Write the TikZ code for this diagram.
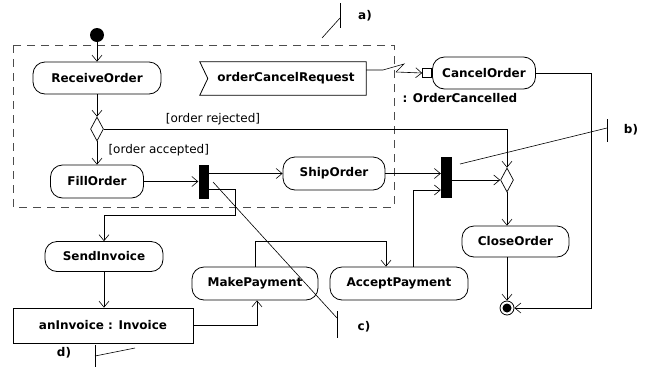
\documentclass[tikz,border=0pt]{standalone}
\usepackage{fontspec}
\setmainfont{DejaVu Sans}
\usetikzlibrary{arrows.meta,shapes.geometric,calc}
\begin{document}
\begin{tikzpicture}[x=1pt,y=-1pt,
  txt/.style={font=\fontsize{12}{14}\selectfont},
  act/.style={draw, rounded corners=12pt, line width=0.8pt, inner sep=0pt,
              font=\fontsize{12}{14}\selectfont\bfseries},
  obj/.style={draw, line width=0.8pt, inner sep=0pt, font=\fontsize{12}{14}\selectfont\bfseries},
  barnode/.style={fill=black, draw=none, inner sep=0pt, minimum width=10pt, minimum height=34pt},
  dec/.style={diamond, draw, inner sep=0pt, line width=0.7pt, minimum width=13pt, minimum height=24pt},
  flow/.style={line width=0.6pt, -{Straight Barb[length=6pt,width=10pt]}},
  plainline/.style={line width=0.6pt},
  frame/.style={draw=black!70, line width=0.7pt, dash pattern=on 8pt off 6pt},
  tag/.style={font=\fontsize{12}{14}\selectfont\bfseries}
]
\useasboundingbox (0,0) rectangle (647,370);

% partition frame
\draw[frame] (13,45) rectangle (394,207);

% nodes
\node[circle, fill=black, minimum size=14pt, inner sep=0pt] (start) at (97,35) {};
\node[act, minimum width=128pt, minimum height=32pt] (recv) at (97,78) {ReceiveOrder};
\node[inner sep=0pt, minimum width=160pt, minimum height=33pt, txt, font=\fontsize{12}{14}\selectfont\bfseries] (ocr) at (286,78.5) {orderCancelRequest};
\draw[line width=0.8pt] (ocr.north east) -- ($(ocr.north west)+(-6,0)$) -- ($(ocr.west)+(2,0)$)
   -- ($(ocr.south west)+(-6,0)$) -- (ocr.south east) -- cycle;
\node[draw, line width=0.7pt, minimum size=9pt, inner sep=0pt] (pin) at (427,73) {};
\node[act, minimum width=103pt, minimum height=32pt] (cancel) at (484,73) {CancelOrder};
\node[txt, font=\fontsize{12}{14}\selectfont\bfseries, anchor=west] (oc) at (399,98) {: OrderCancelled};

\node[dec] (d1) at (97,129) {};
\node[txt, anchor=south] (gr) at (213,129) {[order rejected]};
\node[act, minimum width=93pt, minimum height=33pt] (fill) at (97,181.5) {FillOrder};
\node[txt, anchor=west] (ga) at (105,150) {[order accepted]};
\node[barnode] (bar1) at (203.5,181.5) {};
\node[act, minimum width=102pt, minimum height=33pt] (ship) at (334,173.5) {ShipOrder};
\node[barnode, minimum width=11pt, minimum height=41pt] (bar2) at (446.5,177.5) {};
\node[dec] (d2) at (507,180) {};
\node[act, minimum width=107pt, minimum height=31pt] (close) at (515.5,241.5) {CloseOrder};
\node[circle, draw, line width=0.8pt, minimum size=14pt, inner sep=0pt] (final) at (507,308) {};
\fill (final.center) circle (4.5pt);

\node[act, minimum width=118pt, minimum height=30pt] (send) at (104,256.5) {SendInvoice};
\node[obj, minimum width=180pt, minimum height=35pt] (inv) at (103,325.5) {anInvoice : Invoice};
\node[act, minimum width=126pt, minimum height=33pt] (make) at (255,283.5) {MakePayment};
\node[act, minimum width=138pt, minimum height=33pt] (acc) at (399,283.5) {AcceptPayment};

% connectors
\draw[flow] (start) -- (recv);
\draw[flow] (recv) -- (d1);
\draw[flow] (d1) -- (fill);
\draw[flow] (d1.east) -| (d2.north);
\draw[flow] (fill.east) -- (bar1.west);
\draw[flow] (bar1.east |- ship.west) -- (ship.west);
\draw[flow] ($(bar1.east)+(0,8)$) -- ++(27,0) -- ++(0,25.5) -| (send.north);
\draw[flow] (send.south) -- (send.south |- inv.north);
\draw[flow] (inv.east) -| ($(make.south)+(2,0)$);
\draw[flow] (make.north) -- ++(0,-25) -| ($(acc.north)+(-13,0)$);
\draw[flow] ($(acc.north)+(14,0)$) |- ($(bar2.west)+(0,12.5)$);
\draw[flow] (ship.east) -- (ship.east -| bar2.west);
\draw[flow] (bar2.east |- d2.west) -- (d2.west);
\draw[flow] (d2.south) -- (d2.south |- close.north);
\draw[flow] (d2.south |- close.south) -- (final.north);
\draw[flow] (cancel.east) -- ++(55,0) |- (final.east);

% interrupting edge
\coordinate (z1) at (383,70);
\coordinate (z2) at (404,64);
\coordinate (z3) at (396,72);
\draw[plainline] ($(ocr.east)+(0,-8.5)$) -- (z1) -- (z2) -- (z3);
\draw[flow] (z3) -- (pin.west);

% callouts
\coordinate (ta1) at (340,3); \coordinate (ta2) at (340,28);
\coordinate (tam) at (340,18); \coordinate (tae) at (322,38);
\draw[plainline] (ta1) -- (ta2);
\draw[plainline] (tam) -- (tae);
\node[tag] (la) at (365,16) {a)};

\coordinate (tb1) at (607,119); \coordinate (tb2) at (607,142);
\coordinate (tbm) at (607,128); \coordinate (tbe) at (460,164);
\draw[plainline] (tb1) -- (tb2);
\draw[plainline] (tbm) -- (tbe);
\node[tag] (lb) at (631,130) {b)};

\coordinate (tc1) at (337,311); \coordinate (tc2) at (337,338);
\coordinate (tcm) at (337,318); \coordinate (tce) at (213,182);
\draw[plainline] (tc1) -- (tc2);
\draw[plainline] (tcm) -- (tce);
\node[tag] (lc) at (364,327) {c)};

\coordinate (td1) at (95,345); \coordinate (td2) at (95,367);
\coordinate (tdm) at (95,356); \coordinate (tde) at (135,348);
\draw[plainline] (td1) -- (td2);
\draw[plainline] (tdm) -- (tde);
\node[tag] (ld) at (64,353) {d)};
\end{tikzpicture}
\end{document}
